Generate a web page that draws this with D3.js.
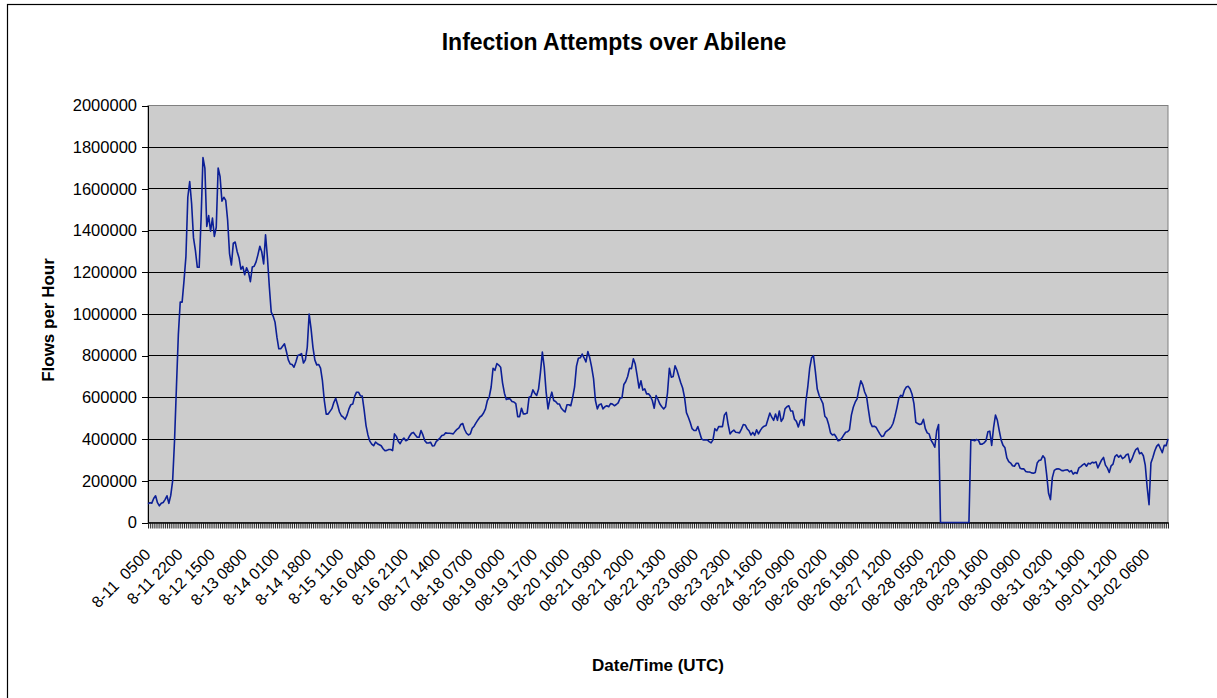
<!DOCTYPE html>
<html>
<head>
<meta charset="utf-8">
<script src="https://cdn.jsdelivr.net/npm/d3@7"></script>
<style>
  body { margin: 0; background: #fff; }
  svg { display: block; font-family: "Liberation Sans", Arial, sans-serif; }
</style>
</head>
<body>
<div id="chart"></div>
<script>
const width = 1217,
    height = 698,
    margin = ({ top: 105.5, right: 49, bottom: 175.5, left: 148 });

// hourly flows, in thousands
const flowsK = [
  90,95,93,115,128,95,80,92,96,110,128,92,130,
  200,393,650,900,1057,1057,1160,1275,1560,1635,1530,1365,1305,1225,1224,1456,
  1750,1700,1420,1472,1397,1460,1372,1416,1700,1660,1541,1560,1545,1450,1290,1235,
  1340,1345,1300,1270,1215,1228,1188,1222,1200,1155,1225,1229,1250,1285,1325,1298,
  1240,1380,1270,1130,1009,990,961,889,833,833,845,857,820,780,760,758,745,770,
  801,805,810,765,780,840,1000,930,840,780,756,758,740,680,585,520,520,533,546,575,
  596,565,530,
  512,505,495,515,545,565,568,605,625,625,
  608,606,540,465,420,390,376,368,386,378,
  373,368,354,344,346,350,350,345,425,413,
  390,378,395,405,392,397,415,428,432,420,
  409,409,441,420,392,382,381,385,367,368,
  388,396,405,417,420,430,428,428,427,425,
  437,447,454,470,475,446,428,420,425,452,
  462,478,492,505,512,525,545,585,603,650,
  740,730,762,755,
  745,670,620,590,594,592,580,578,570,508,
  508,548,521,521,525,601,604,636,620,609,
  640,720,817,745,625,545,593,625,585,580,
  569,568,548,538,530,565,565,560,600,650,
  750,788,790,808,790,770,820,790,745,690,
  585,545,565,569,545,555,560,555,570,568,
  560,566,574,596,598,662,676,700,740,738,
  785,760,705,645,680,635,641,617,617,605,
  585,548,609,590,568,555,545,555,620,740,
  697,700,752,730,700,670,645,600,527,505,
  480,450,441,441,460,430,400,396,396,396,
  388,382,396,450,440,460,460,460,515,528,
  470,425,436,443,433,432,430,
  448,470,468,450,440,420,432,418,445,425,
  442,455,462,465,495,525,505,490,520,490,
  535,485,500,545,555,560,535,535,495,485,
  458,488,495,465,580,650,740,790,800,725,
  640,609,590,570,510,500,470,430,420,423,
  410,392,395,405,420,433,435,445,515,553,
  577,593,641,680,660,626,605,540,480,460,
  462,457,441,425,412,415,433,441,448,458,
  476,510,550,595,610,605,635,650,653,640,
  615,570,480,475,470,473,495,450,430,425,
  395,380,361,440,470,
  0,0,0,0,0,0,0,0,0,0,0,0,0,0,0,0,
  393,396,392,398,395,375,376,382,392,435,
  438,370,455,515,490,440,395,370,358,310,
  292,285,272,270,284,284,260,257,257,245,
  242,242,238,236,240,285,298,300,320,308,
  230,140,110,215,250,256,258,255,249,249,
  252,253,243,249,232,240,235,262,268,276,
  282,270,284,281,289,286,291,262,281,300,
  312,275,262,240,272,280,316,325,313,322,
  306,312,325,328,288,305,330,350,357,330,
  335,320,275,170,85,285,312,343,365,375,
  355,335,370,368,401
];

// category labels, one every 17 hours
const tickLabels = [
  "8-11  0500","8-11 2200","8-12 1500","8-13 0800","8-14 0100","8-14 1800",
  "8-15 1100","8-16 0400","8-16 2100","08-17 1400","08-18 0700","08-19 0000",
  "08-19 1700","08-20 1000","08-21 0300","08-21 2000","08-22 1300","08-23 0600",
  "08-23 2300","08-24 1600","08-25 0900","08-26 0200","08-26 1900","08-27 1200",
  "08-28 0500","08-28 2200","08-29 1600","08-30 0900","08-31 0200","08-31 1900",
  "09-01 1200","09-02 0600"
];
const labelStep = 17;

const yTicks = [0,200000,400000,600000,800000,1000000,1200000,1400000,1600000,1800000,2000000];

const flows = flowsK.map(d => d * 1000);
const n = flows.length;

const svg = d3.select("#chart")
  .append("svg")
  .attr("width", width)
  .attr("height", height);

// chart area border
svg.append("rect")
  .attr("x", 7.5).attr("y", 4.5)
  .attr("width", 1300).attr("height", 800)
  .attr("fill", "#fff")
  .attr("stroke", "#000")
  .attr("stroke-width", 1.2);

let x = d3.scaleLinear()
  .domain([0, n - 1])
  .range([margin.left, width - margin.right]);

let y = d3.scaleLinear()
  .domain([0, 2000000])
  .range([height - margin.bottom, margin.top]);

// plot area
svg.append("rect")
  .attr("x", margin.left)
  .attr("y", margin.top)
  .attr("width", width - margin.right - margin.left)
  .attr("height", height - margin.bottom - margin.top)
  .attr("fill", "#cccccc")
  .attr("stroke", "#808080")
  .attr("stroke-width", 1);

// gridlines
svg.append("g")
  .selectAll("line")
  .data(yTicks.slice(1, -1))
  .join("line")
  .attr("x1", margin.left)
  .attr("x2", width - margin.right)
  .attr("y1", d => y(d))
  .attr("y2", d => y(d))
  .attr("stroke", "#000")
  .attr("shape-rendering", "crispEdges");

// y axis
svg.append("g")
  .attr("transform", `translate(${margin.left},0)`)
  .call(d3.axisLeft(y)
    .tickValues(yTicks)
    .tickFormat(d3.format("d"))
    .tickSize(6)
    .tickPadding(5)
    .tickSizeOuter(0))
  .call(g => g.select(".domain").attr("stroke", "#000").attr("shape-rendering", "crispEdges"))
  .call(g => g.selectAll(".tick line").attr("shape-rendering", "crispEdges"))
  .call(g => g.selectAll("text")
    .attr("font-size", "16.5px")
    .attr("fill", "#000")
    .attr("font-family", "Liberation Sans, Arial, sans-serif"));

// x axis: a tick on every hour, a label every 17th
svg.append("g")
  .attr("transform", `translate(0,${height - margin.bottom})`)
  .call(d3.axisBottom(x)
    .tickValues(d3.range(n))
    .tickFormat(i => i % labelStep === 0 ? (tickLabels[i / labelStep] || "") : "")
    .tickSize(6)
    .tickSizeOuter(0))
  .call(g => g.select(".domain").attr("stroke", "#000").attr("stroke-width", 1.5))
  .call(g => g.selectAll(".tick line").attr("stroke", "#111").attr("stroke-width", 0.9))
  .call(g => g.selectAll("text")
    .attr("font-size", "16px")
    .attr("fill", "#000")
    .attr("font-family", "Liberation Sans, Arial, sans-serif")
    .style("white-space", "pre")
    .attr("text-anchor", "end")
    .attr("x", 0)
    .attr("y", 0)
    .attr("dy", "0.35em")
    .attr("transform", "translate(-1,29) rotate(-45)"));

let line = d3.line()
  .x((d, i) => x(i))
  .y(d => y(d));

svg.append("path")
  .datum(flows)
  .attr("d", line)
  .attr("fill", "none")
  .attr("stroke", "#0c1f96")
  .attr("stroke-width", 1.6)
  .attr("stroke-linejoin", "round");

svg.append("text")
  .attr("x", 614)
  .attr("y", 50)
  .attr("text-anchor", "middle")
  .attr("font-weight", "bold")
  .attr("font-size", "23px")
  .text("Infection Attempts over Abilene");

svg.append("text")
  .attr("x", (margin.left + width - margin.right) / 2)
  .attr("y", 671)
  .attr("text-anchor", "middle")
  .attr("font-weight", "bold")
  .attr("font-size", "17px")
  .text("Date/Time (UTC)");

svg.append("text")
  .attr("transform", "translate(54,320) rotate(-90)")
  .attr("text-anchor", "middle")
  .attr("font-weight", "bold")
  .attr("font-size", "17px")
  .text("Flows per Hour");
</script>
</body>
</html>
